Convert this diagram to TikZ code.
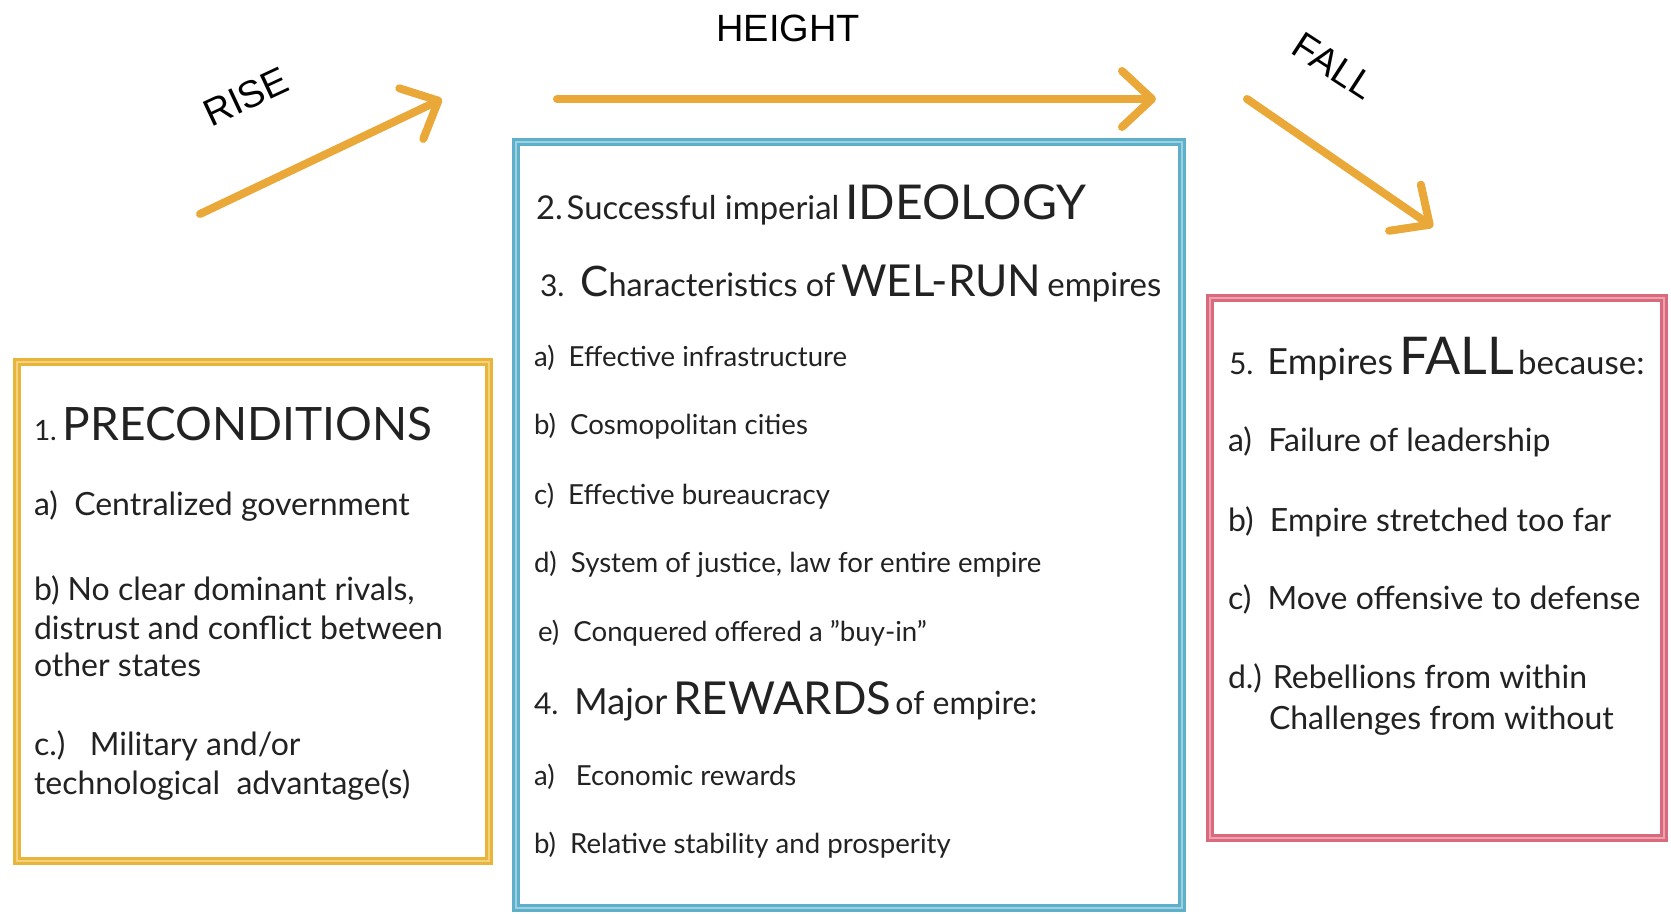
\documentclass[tikz,border=0pt]{standalone}
\usepackage{fontspec}
\setmainfont{Lato}
\newfontfamily\labelfont{Liberation Sans}
\usetikzlibrary{arrows.meta}
\definecolor{arroworange}{HTML}{E9A838}
\definecolor{boxorange}{HTML}{E8B43A}
\definecolor{boxorangelight}{HTML}{F3D27E}
\definecolor{boxblue}{HTML}{5EAFC9}
\definecolor{boxbluelight}{HTML}{9DD0E0}
\definecolor{boxred}{HTML}{D9697C}
\definecolor{boxredlight}{HTML}{EBA3AF}
\definecolor{ink}{HTML}{222222}
\newcommand{\fz}[1]{\fontsize{#1}{#1}\selectfont}
\begin{document}
\begin{tikzpicture}[x=0.5pt,y=-0.5pt,
  txt/.style={anchor=base west, inner sep=0pt, outer sep=0pt, text=ink},
  lbody/.style={txt, font=\fz{16pt}},
  cbody/.style={txt, font=\fz{13.8pt}},
  rbody/.style={txt, font=\fz{16pt}},
  frame/.style={rectangle, inner sep=0pt, line width=1.6pt, double distance=0.8pt, fill=white},
  bigarrow/.style={draw=arroworange, line width=4pt, line cap=round,
    -{Straight Barb[length=15pt,width=28pt,line cap=round,line join=round]}},
  toplabel/.style={inner sep=0pt, font=\labelfont\fz{19pt}, text=black}]
\useasboundingbox (0,0) rectangle (1671,914);
\fill[white] (0,0) rectangle (1671,914);

% boxes
\node[frame, draw=boxorange, double=boxorangelight, minimum width=236pt, minimum height=249.5pt] (pre) at (253,611.5) {};
\node[frame, draw=boxblue, double=boxbluelight, minimum width=333pt, minimum height=383pt] (mid) at (849,525) {};
\node[frame, draw=boxred, double=boxredlight, minimum width=227pt, minimum height=270pt] (fallbox) at (1437,568) {};

% arrows
\coordinate (riseS) at (200,214);
\coordinate (riseE) at (442,99);
\coordinate (heightS) at (557,99);
\coordinate (heightE) at (1156,99);
\coordinate (fallS) at (1247,99);
\coordinate (fallE) at (1433,227);
\draw[bigarrow] (riseS) -- (riseE);
\draw[bigarrow] (heightS) -- (heightE);
\draw[bigarrow] (fallS) -- (fallE);

\node[toplabel, rotate=25] (riselbl) at (246,97) {RISE};
\node[toplabel] (heightlbl) at (788,28) {HEIGHT};
\node[toplabel, rotate=-33] (falllbl) at (1334,66) {FALL};

% left box text
\node[txt] (l1) at (34,441) {\fz{14pt}1.\hspace{3pt}\fz{23pt}PRECONDITIONS};
\node[lbody] (l2) at (34,516) {a)\ \ Centralized government};
\node[lbody] (l3) at (34,600) {b) No clear dominant rivals,};
\node[lbody] (l4) at (34,639) {distrust and conflict between};
\node[lbody] (l5) at (34,676) {other states};
\node[lbody] (l6) at (34,755) {c.)\ \ \ Military and/or};
\node[lbody] (l7) at (34,794) {technological\ \ advantage(s)};

% middle box text
\node[txt] (m1) at (536,220) {\fz{16.4pt}2.\hspace{2pt}Successful imperial\hspace{3pt}\fz{24pt}IDEOLOGY};
\node[txt] (m2) at (540,297) {\fz{15pt}3.\hspace{8pt}\fz{21pt}C\fz{16.2pt}haracteristics of\hspace{3pt}\fz{22pt}WEL-RUN\hspace{3pt}\fz{16.5pt}empires};
\node[cbody] (m3) at (534,367) {a)\ \ Effective infrastructure};
\node[cbody] (m4) at (534,435) {b)\ \ Cosmopolitan cities};
\node[cbody] (m5) at (534,504) {c)\ \ Effective bureaucracy};
\node[cbody] (m6) at (534,573) {d)\ \ System of justice, law for entire empire};
\node[cbody] (m7) at (538,641) {e)\ \ Conquered offered a "buy-in"};
\node[txt] (m8) at (534,714) {\fz{15pt}4.\hspace{8pt}\fz{18pt}Major\hspace{3pt}\fz{22.7pt}REWARDS\hspace{2pt}\fz{16pt}of empire:};
\node[cbody] (m9) at (534,785) {a)\ \ \ Economic rewards};
\node[cbody] (m10) at (534,853) {b)\ \ Relative stability and prosperity};

% right box text
\node[txt] (r1) at (1229,375) {\fz{15pt}5.\hspace{7pt}\fz{18pt}Empires\hspace{3pt}\fz{26pt}FALL\hspace{2pt}\fz{16.5pt}because:};
\node[rbody] (r2) at (1228,452) {a)\ \ Failure of leadership};
\node[rbody] (r3) at (1228,531) {b)\ \ Empire stretched too far};
\node[rbody] (r4) at (1228,609) {c)\ \ Move offensive to defense};
\node[rbody] (r5) at (1228,688) {d.) Rebellions from within};
\node[rbody] (r6) at (1269,729) {Challenges from without};
\end{tikzpicture}
\end{document}
